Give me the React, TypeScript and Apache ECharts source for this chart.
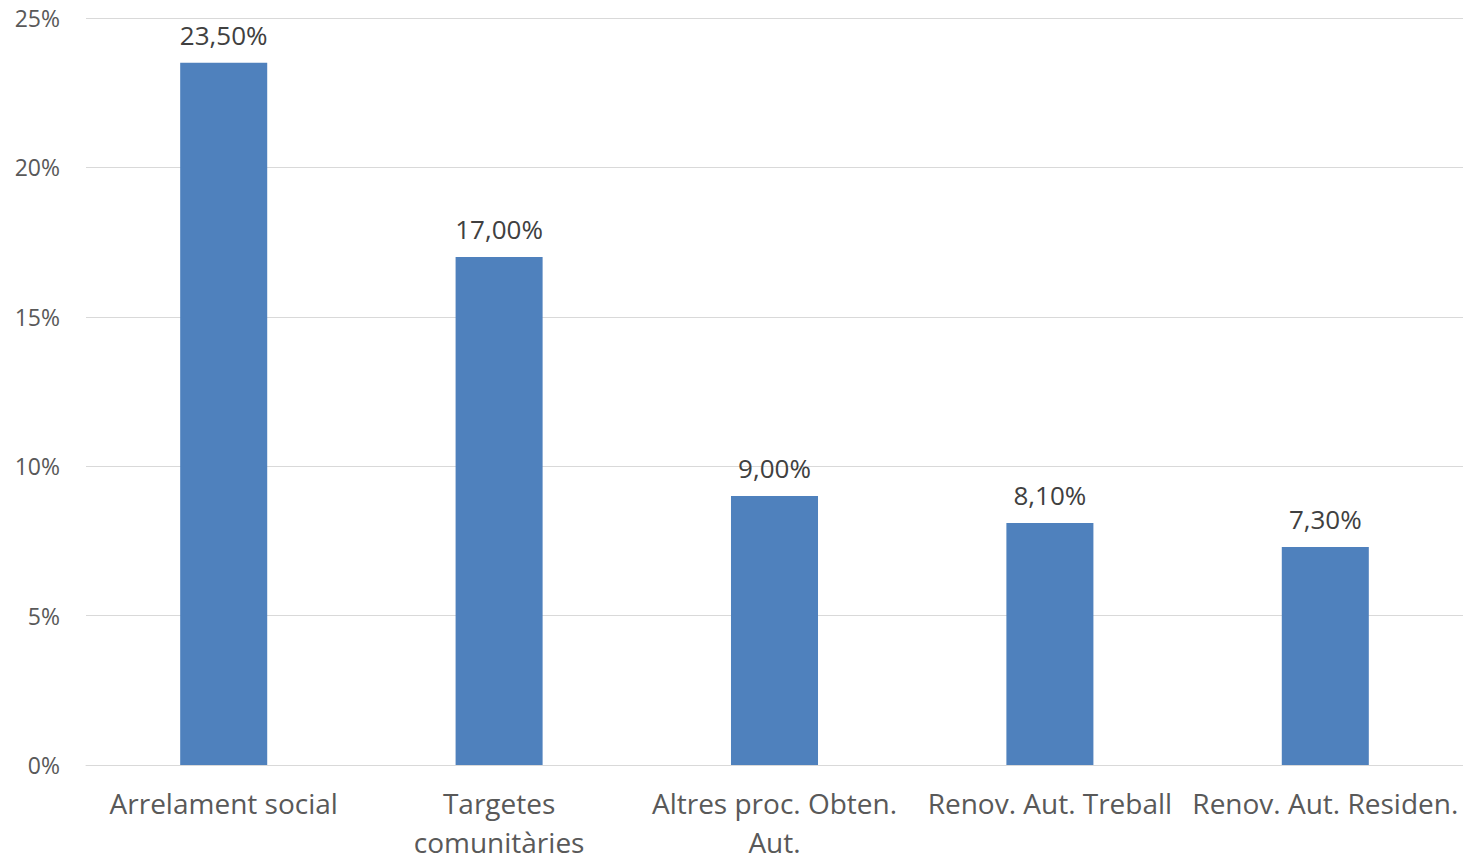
import React, { useEffect, useRef } from "react";
import * as echarts from "echarts";

const categories = [
  "Arrelament social",
  "Targetes\ncomunitàries",
  "Altres proc. Obten.\nAut.",
  "Renov. Aut. Treball",
  "Renov. Aut. Residen.",
];
const values = [23.5, 17.0, 9.0, 8.1, 7.3];
const yTicks = [0, 5, 10, 15, 20, 25];

const FONT = "'Open Sans', 'Noto Sans', sans-serif";

export default function App() {
  const ref = useRef<HTMLDivElement>(null);
  useEffect(() => {
    if (!ref.current) return;
    const chart = echarts.init(ref.current, undefined, { renderer: "svg" });
    chart.setOption({
      animation: false,
      backgroundColor: "#ffffff",
      grid: { left: 86, right: 0, top: 18, bottom: 96, containLabel: false },
      xAxis: {
        type: "category",
        data: categories,
        axisLine: { show: true, lineStyle: { color: "#d9d9d9", width: 1 } },
        axisTick: { show: false },
        axisLabel: {
          color: "#595959",
          fontFamily: FONT,
          fontSize: 28,
          lineHeight: 39,
          margin: 18,
          interval: 0,
        },
      },
      yAxis: {
        type: "value",
        min: yTicks[0],
        max: yTicks[yTicks.length - 1],
        interval: 5,
        axisLine: { show: false },
        axisTick: { show: false },
        splitLine: { lineStyle: { color: "#d9d9d9", width: 1 } },
        axisLabel: {
          color: "#595959",
          fontFamily: FONT,
          fontSize: 23,
          margin: 26,
          formatter: (v: number) => `${v}%`,
        },
      },
      series: [
        {
          type: "bar",
          data: values,
          barWidth: "31.6%",
          itemStyle: { color: "#4f81bd" },
          label: {
            show: true,
            position: "top",
            distance: 15,
            color: "#404040",
            fontFamily: FONT,
            fontSize: 26,
            formatter: (p: any) => p.value.toFixed(2).replace(".", ",") + "%",
          },
        },
      ],
    });
    return () => chart.dispose();
  }, []);
  return <div ref={ref} style={{ width: 1463, height: 861, position: "absolute", left: 0, top: 0 }} />;
}
